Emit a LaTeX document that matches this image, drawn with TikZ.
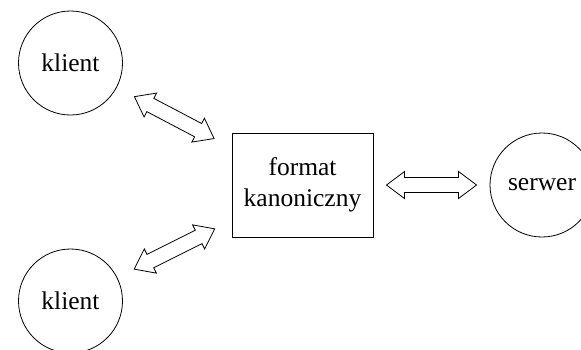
\documentclass[tikz,border=0pt]{standalone}
\usepackage{fontspec}
\setmainfont{Liberation Serif}
\usetikzlibrary{calc}

% hollow two-headed block arrow, centred between the borders of two nodes
\newcommand{\twoway}[2]{%
  \path (#1) -- coordinate[pos=0.5] (mid) (#2);
  \coordinate (ta) at ($(mid)!22.5pt!(#1)$);
  \coordinate (tb) at ($(mid)!22.5pt!(#2)$);
  \coordinate (ha) at ($(ta)!9pt!(tb)$);
  \coordinate (hb) at ($(tb)!9pt!(ta)$);
  \draw[blockarrow] (ta) -- ($(ha)!6.75pt!90:(tb)$) -- ($(ha)!3.75pt!90:(tb)$)
    -- ($(hb)!3.75pt!90:(tb)$) -- ($(hb)!6.75pt!90:(tb)$) -- (tb)
    -- ($(hb)!6.75pt!-90:(tb)$) -- ($(hb)!3.75pt!-90:(tb)$)
    -- ($(ha)!3.75pt!-90:(tb)$) -- ($(ha)!6.75pt!-90:(tb)$) -- cycle;
}

\begin{document}
\begin{tikzpicture}[x=0.5pt, y=-0.5pt, font=\fontsize{12.75}{15.5}\selectfont]
\tikzstyle{party} = [circle, draw, minimum size=52pt, inner sep=0pt]
\tikzstyle{block} = [rectangle, draw, minimum width=70.5pt, minimum height=52pt, align=center, inner sep=0pt]
\tikzstyle{blockarrow} = [draw, fill=white, line join=miter]

\useasboundingbox (0,0) rectangle (581,349);

% the two clients on the left
\node [party] (klient1) at (70.5,63) {klient};
\node [party] (klient2) at (70.5,301) {klient};

% canonical format in the middle
\node [block] (format) at (302.5,185) {format\\kanoniczny};

% server on the right
\node [party] (serwer) at (542,185) {serwer};

% block arrows between them
\twoway{klient1}{format}
\twoway{klient2}{format}
\twoway{format}{serwer}

\end{tikzpicture}
\end{document}
